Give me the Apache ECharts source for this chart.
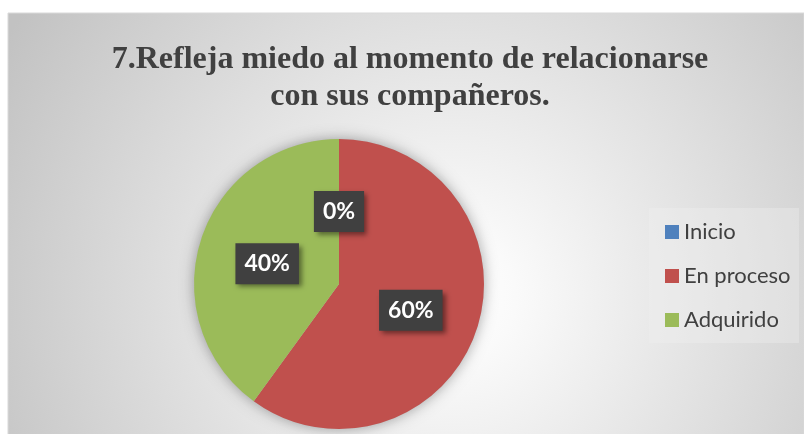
<!DOCTYPE html>
<html>
<head>
<meta charset="utf-8">
<script src="https://cdn.jsdelivr.net/npm/echarts@6/dist/echarts.min.js"></script>
<style>
  html, body { margin: 0; padding: 0; background: #fff; }
  #chart { width: 804px; height: 434px; }
</style>
</head>
<body>
<div id="chart"></div>
<script>
// 数据
const titleText = '7.Refleja miedo al momento de relacionarse\ncon sus compañeros.';
const categories = ['Inicio', 'En proceso', 'Adquirido'];
const values = [0, 60, 40];
const colors = ['#4F81BD', '#C0504D', '#9BBB59'];

const chart = echarts.init(document.getElementById('chart'));

const option = {
  animation: false,
  title: {
    text: titleText,
    left: 410,
    top: 41,
    padding: 0,
    textAlign: 'center',
    textStyle: {
      fontFamily: 'Liberation Serif',
      fontWeight: 'bold',
      fontSize: 32,
      lineHeight: 37,
      color: '#404040'
    }
  },
  graphic: [
    {
      type: 'rect',
      z: -10,
      silent: true,
      shape: { x: 8, y: 13, width: 796, height: 430 },
      style: {
        fill: new echarts.graphic.RadialGradient(0.56, 0.66, 1.2, [
          { offset: 0, color: '#ffffff' },
          { offset: 0.12, color: '#fafafa' },
          { offset: 1, color: '#c2c2c2' }
        ]),
        stroke: '#d9d9d9',
        lineWidth: 1
      }
    },
    {
      type: 'rect',
      z: -5,
      silent: true,
      shape: { x: 649, y: 208, width: 150, height: 135 },
      style: { fill: 'rgba(242,242,242,0.35)' }
    }
  ],
  legend: {
    orient: 'vertical',
    left: 660,
    top: 216,
    data: categories,
    icon: 'rect',
    itemWidth: 14,
    itemHeight: 14,
    itemGap: 22,
    textStyle: {
      fontFamily: 'Lato',
      fontSize: 22,
      lineHeight: 21,
      color: '#404040'
    }
  },
  series: [
    {
      // 阴影底盘
      type: 'pie',
      silent: true,
      center: [339, 284],
      radius: 145,
      z: 1,
      label: { show: false },
      labelLine: { show: false },
      itemStyle: {
        color: '#bbbbbb',
        shadowBlur: 14,
        shadowColor: 'rgba(0,0,0,0.35)'
      },
      data: [{ name: '_shadow', value: 1 }]
    },
    {
      type: 'pie',
      center: [339, 284],
      radius: 145,
      startAngle: 90,
      clockwise: true,
      z: 2,
      avoidLabelOverlap: false,
      data: categories.map((name, i) => ({
        name: name,
        value: values[i],
        itemStyle: { color: colors[i] }
      })),
      label: {
        show: true,
        position: 'inside',
        formatter: '{d}%',
        offset: [0, 3],
        fontFamily: 'Lato',
        fontWeight: 'bold',
        fontSize: 23,
        lineHeight: 23,
        color: '#ffffff',
        backgroundColor: '#404040',
        padding: [9, 9, 9, 9],
        shadowBlur: 5,
        shadowOffsetX: 3,
        shadowOffsetY: 3,
        shadowColor: 'rgba(0,0,0,0.45)'
      },
      labelLine: { show: false },
      emphasis: { disabled: true }
    }
  ]
};

chart.setOption(option);
</script>
</body>
</html>
